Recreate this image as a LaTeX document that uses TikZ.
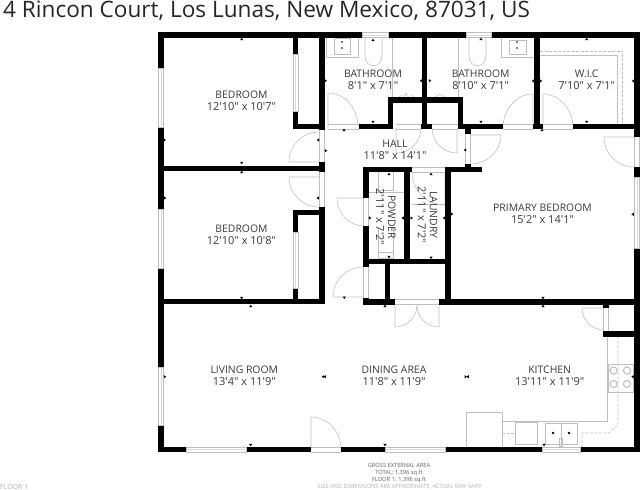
\documentclass[tikz,border=0pt]{standalone}
\usepackage{fontspec}
\setmainfont{Open Sans}
\newfontfamily\straightfont{Open Sans}
\definecolor{thin}{HTML}{BEBEBE}
\definecolor{inktxt}{HTML}{3A3A3A}
\tikzset{
  wallline/.style={draw=black,line width=5.4pt,line cap=butt},
  fixture/.style={draw=thin,line width=0.55pt},
  dashedfix/.style={draw=thin,line width=0.55pt,dash pattern=on 3pt off 1.5pt},
  roomlabel/.style={font=\fontsize{10.4}{12}\selectfont,text=inktxt,inner sep=0pt,align=center},
  foot/.style={font=\fontsize{5.7}{6}\selectfont,text=inktxt!80,inner sep=0pt}
}
\newcommand{\dm}[1]{{\straightfont\fontsize{11}{12}\selectfont #1}}
\newcommand{\wh}[3]{\draw[wallline] (#1,#3) -- (#2,#3);}
\newcommand{\wv}[3]{\draw[wallline] (#1,#2) -- (#1,#3);}
\newcommand{\winh}[3]{\draw[fixture,fill=white] (#1,#3-2.6) rectangle (#2,#3+2.6); \draw[fixture,draw=thin!60,line width=.4pt] (#1+1,#3) -- (#2-1,#3);}
\newcommand{\winv}[3]{\draw[fixture,fill=white] (#1-2.6,#2) rectangle (#1+2.6,#3); \draw[fixture,draw=thin!60,line width=.4pt] (#1,#2+1) -- (#1,#3-1);}
\newcommand{\gaph}[3]{\draw[fixture,line width=.45pt] (#1,#3-2.4) -- (#2,#3-2.4) (#1,#3+2.4) -- (#2,#3+2.4);}
\newcommand{\gapv}[3]{\draw[fixture,line width=.45pt] (#1-2.4,#2) -- (#1-2.4,#3) (#1+2.4,#2) -- (#1+2.4,#3);}
% hinge, leaf end, arc end
\newcommand{\door}[6]{\draw[fixture] (#1,#2) -- (#3,#4) .. controls ({#3+0.5523*(#5-#1)},{#4+0.5523*(#6-#2)}) and ({#5+0.5523*(#3-#1)},{#6+0.5523*(#4-#2)}) .. (#5,#6);}
\newcommand{\tk}[3]{\fill[black,shift={(#1,#2)},rotate=#3] (-1.6,1.1) -- (1.6,1.1) -- (0,-1.3) -- cycle;}
\begin{document}
\begin{tikzpicture}[x=1pt,y=-1pt]
\useasboundingbox (0,0) rectangle (640,490);
\fill[white] (0,0) rectangle (640,490);
% title
\node[anchor=west,inner sep=0pt,text=black!85,font=\fontsize{22.6}{24}\selectfont] (title) at (3,10.5) {4 Rincon Court, Los Lunas, New Mexico, 87031, US};
% fixtures first
\draw[fixture] (326,37) -- (326,57) -- (358,57) -- (358,37);
\draw[fixture] (334,38) rectangle (350,54);
\fill[thin] (342,42) circle (.8) (342,48) circle (.8);
\draw[fixture] (365,38) -- (365,56) .. controls (365,69) and (382,69) .. (382,56) -- (382,38);
\draw[fixture] (392,38) -- (392,97);
\draw[fixture] (458,38) -- (458,97);
\draw[fixture] (469,38) -- (469,56) .. controls (469,69) and (486,69) .. (486,56) -- (486,38);
\draw[fixture] (501,37) -- (501,57) -- (534,57);
\draw[fixture] (509,40) rectangle (526,54);
\fill[thin] (517,42) circle (.8) (517,48) circle (.8);
\draw[fixture] (404,97) -- (406,93) -- (408,97) (399,97) -- (402,95) (411,95) -- (414,97);
\draw[fixture] (440,97) -- (440,93) (435,97) -- (438,95) (442,95) -- (445,97);
% WIC shelves
\draw[dashedfix] (540,51) -- (622.7,51) -- (622.7,123);
\draw[fixture] (540,55) -- (617,55) -- (617,123);
% powder and laundry fixtures
\draw[fixture] (378,172) -- (378,190) -- (393,190) -- (393,172);
\draw[fixture] (369,192.7) -- (404,192.7);
\draw[fixture] (378,228) -- (378,258) -- (393,258) -- (393,252) -- (378,252);
\draw[fixture] (393,228) -- (393,252);
\draw[fixture] (412,204.5) -- (445,204.5);
% kitchen
\draw[fixture] (607,336) -- (607,421.7) -- (502,421.7);
\draw[dashedfix] (618,336) -- (618,425) -- (609,433) -- (582,433) -- (582,447);
\draw[fixture] (466,412) rectangle (502,447);
\draw[fixture] (515,422) rectangle (537,444);
\draw[dashedfix] (502,433) -- (515,433);
\draw[fixture] (545,423) rectangle (577,444);
\draw[fixture] (561,423) -- (561,444);
\fill[thin] (553,433) circle (1.4) (569,433) circle (1.4);
\draw[fixture] (559,438) rectangle (562,446);
\draw[fixture] (608,364) rectangle (633,392);
\foreach \bx/\by in {613.5/370.5,627/370.5,613.5/384,627/384}{
  \draw[fixture,line width=1pt] (\bx,\by) circle (3.6);
}
% doors
\door{328}{127}{328}{93}{358}{127}
\door{319}{162}{289}{162}{319}{132}
\door{319}{177}{289}{177}{319}{207}
\door{396}{128}{396}{153}{421}{128}
\door{457}{128}{457}{153}{432}{128}
\door{533}{128}{533}{94}{503}{128}
\door{543}{128}{543}{94}{573}{128}
\door{470}{135}{501}{135}{470}{164}
\door{634}{137}{604}{137}{634}{167}
\door{445}{172}{445}{205}{412}{172}
\door{364}{198}{337}{198}{364}{226}
\door{363}{297}{333}{297}{363}{267}
\door{395}{305}{395}{327}{417}{305}
\door{439}{305}{439}{327}{417}{305}
\door{311}{449}{311}{417}{341}{449}
\door{604}{308}{582}{308}{604}{330}
% door openings
\gaph{328}{359}{126.5}
\gaph{396}{421}{126.5}
\gaph{432}{458}{126.5}
\gaph{503}{533}{126.5}
\gaph{543}{573}{126.5}
\gapv{322}{130}{162}
\gapv{322}{172}{207}
\gapv{468}{134}{164}
\gapv{637}{137}{167}
\gaph{412}{445}{169.7}
\gapv{366}{198}{226}
\gapv{366}{267}{298}
\gaph{395}{439}{302}
\gaph{311}{341}{449.5}
\gapv{606}{308}{331}
% outer walls
\wh{158.3}{362}{35}
\wh{388}{465.5}{35}
\wh{491}{640}{35}
\wv{637}{32.3}{137}
\wv{637}{167}{177}
\wv{637}{249}{452}
\wv{161}{32.3}{68}
\wv{161}{127}{209}
\wv{161}{268}{367}
\wv{161}{425}{452}
\wh{158.3}{186}{449.5}
\wh{246}{311}{449.5}
\wh{341}{385}{449.5}
\wh{445}{542}{449.5}
\wh{580}{640}{449.5}
% interior walls
\wh{161}{325}{168.3}
\wh{161}{325}{301.5}
\wv{295.5}{35}{54.5}
\wv{295.5}{111}{129}
\wh{293}{325}{126.5}
\wv{322}{35}{130}
\wv{322}{162}{172}
\wv{322}{207}{304}
\wv{295.5}{210}{232}
\wv{295.5}{288}{304}
\wh{293}{325}{212.5}
\wh{359}{393}{126.5}
\wv{390.5}{97}{129}
\wh{388}{463}{100}
\wv{424.5}{35}{129}
\wv{460.5}{97}{129}
\wh{421}{432}{126.5}
\wh{458}{503}{126.5}
\wh{533}{543}{126.5}
\wh{573}{640}{126.5}
\wv{537}{35}{129}
\wv{468}{124}{134}
\wv{468}{164}{172}
\wh{444.5}{482}{169.7}
\wh{363}{412}{169.7}
\wv{366}{167}{198}
\wv{366}{226}{267}
\wv{366}{298}{304.5}
\wv{407}{167}{262}
\wv{448}{167}{302}
\wh{363}{451}{261.5}
\wv{387.5}{262}{304.5}
\wh{363}{395}{302}
\wh{439}{640}{302}
\wv{606}{305}{308}
\wv{606}{331}{336.5}
\wh{603.5}{640}{334}
% windows
\winh{362.5}{388}{35}
\winh{466}{491}{35}
\winv{637}{177.5}{248.5}
\winv{161}{68}{127}
\winv{161}{209}{268}
\winv{161}{367}{425}
\winh{186}{246}{449.5}
\winh{385}{445}{449.5}
\winh{542}{580}{449.5}
\winv{295.5}{54.5}{111}
\winv{295.5}{232}{288}
% dimension ticks
\foreach \tx/\ty/\ta in {241.7/39/0,164.7/140/-90,241.7/163/180,241.7/172/0,318/140/90,326/150.7/-90,325.7/80.7/-90,373/40/0,344/130/0,373/122/180,
 481/39/0,481/122/180,430/80.7/-90,421/80.7/90,533/81/90,541/81/-90,586.7/39/0,586.7/122/180,633/81/90,542/130/0,465/150/90,431/174/0,
 165/198/-90,317.7/198/90,241.7/298/180,250.7/306/0,344.3/297.7/180,389/174/0,389/257/180,370/218/-90,402.7/218/90,411.7/218/-90,444/218/90,452/214/-90,
 431/257.7/180,385/306/0,543/298/180,543/306/0,465.7/376.7/-90,632.7/376.7/90,544/445/180,250.7/445/180,385/445/180,632.7/214.3/90,165/376.7/-90,325/376.7/90,323/376.7/90,467.7/376.7/90}{
  \tk{\tx}{\ty}{\ta}
}
% labels
\node[roomlabel] (lb1) at (241.5,101) {BEDROOM\\\dm{12'10" x 10'7"}};
\node[roomlabel] (lb2) at (241.5,234.7) {BEDROOM\\\dm{12'10" x 10'8"}};
\node[roomlabel] (lb3) at (373,80) {BATHROOM\\\dm{8'1" x 7'1"}};
\node[roomlabel] (lb4) at (480.7,80) {BATHROOM\\\dm{8'10" x 7'1"}};
\node[roomlabel] (lb5) at (586.7,80) {W.I.C\\\dm{7'10" x 7'1"}};
\node[roomlabel] (lb6) at (395,150) {HALL\\\dm{11'8" x 14'1"}};
\node[roomlabel] (lb7) at (542.5,214) {PRIMARY BEDROOM\\\dm{15'2" x 14'1"}};
\node[roomlabel,rotate=-90] (lb8) at (386,217) {POWDER\\\dm{2'11" x 7'2"}};
\node[roomlabel,rotate=-90] (lb9) at (427.5,215) {LAUNDRY\\\dm{2'11" x 7'2"}};
\node[roomlabel] (lb10) at (244.3,375.5) {LIVING ROOM\\\dm{13'4" x 11'9"}};
\node[roomlabel] (lb11) at (394,375.5) {DINING AREA\\\dm{11'8" x 11'9"}};
\node[roomlabel] (lb12) at (549.7,375.5) {KITCHEN\\\dm{13'11" x 11'9"}};
% footer
\node[foot] (f1) at (399,465.7) {GROSS EXTERNAL AREA};
\node[foot] (f2) at (399,472.7) {TOTAL: 1,396 sq.ft};
\node[foot] (f3) at (399,479.7) {FLOOR 1: 1,396 sq.ft};
\node[foot,text=black!30] (f4) at (399.5,486.8) {SIZE AND DIMENSIONS ARE APPROXIMATE, ACTUAL MAY VARY};
\node[foot,text=black!30,anchor=west,font=\fontsize{7}{8}\selectfont] (f5) at (0,486.8) {FLOOR 1};
\end{tikzpicture}
\end{document}
